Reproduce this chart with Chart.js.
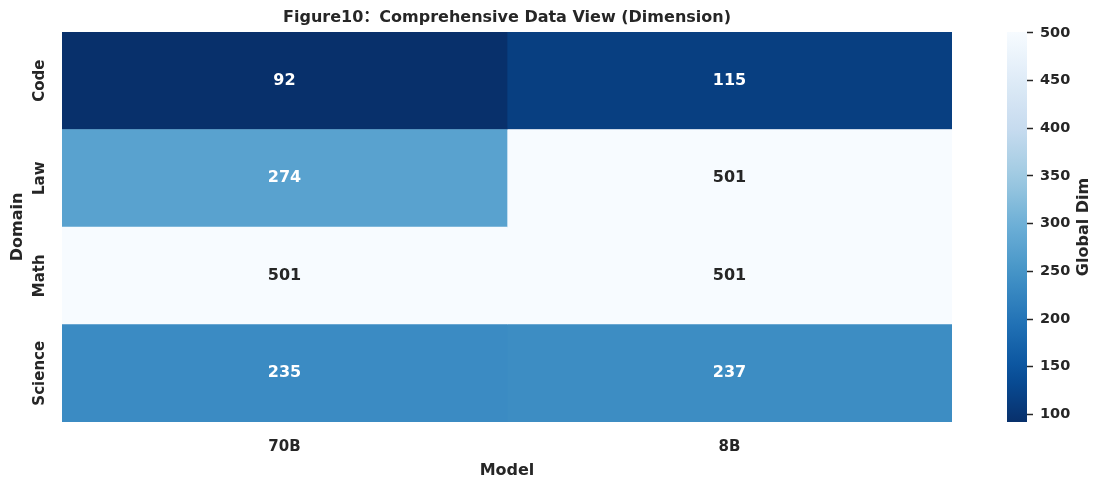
<!DOCTYPE html>
<html lang="en">
<head>
    <meta charset="UTF-8">
    <title>Figure10 Heatmap</title>
    <style>
        body {
            margin: 0;
            padding: 0;
            background-color: #fff;
        }

        #wrap {
            position: relative;
            width: 1105px;
            height: 484px;
        }

        #heatChart {
            position: absolute;
            left: 0;
            top: 0;
        }

        #barChart {
            position: absolute;
            left: 990px;
            top: 0;
        }
    </style>
</head>
<body>
    <div id="wrap">
        <canvas id="heatChart" width="960" height="484"></canvas>
        <canvas id="barChart" width="115" height="484"></canvas>
    </div>

    <script src="https://cdn.jsdelivr.net/npm/chart.js"></script>
    <script>
        // data
        const models = ['70B', '8B'];
        const domains = ['Code', 'Law', 'Math', 'Science'];
        const dim70B = [92, 274, 501, 235];
        const dim8B = [115, 501, 501, 237];
        const colorTicks = [100, 150, 200, 250, 300, 350, 400, 450, 500];
        const vMin = 92;
        const vMax = 501;

        const textColor = '#262626';
        const fontFamily = '"DejaVu Sans", "Noto Sans CJK SC", sans-serif';

        // matplotlib "Blues" stops
        const blues = ['#f7fbff', '#deebf7', '#c6dbef', '#9ecae1', '#6baed6', '#4292c6', '#2171b5', '#08519c', '#08306b'];

        function hexToRgb(h) {
            return [parseInt(h.slice(1, 3), 16), parseInt(h.slice(3, 5), 16), parseInt(h.slice(5, 7), 16)];
        }

        // reversed Blues: low value = dark
        function colorFor(v) {
            let t = (v - vMin) / (vMax - vMin);
            t = Math.max(0, Math.min(1, t));
            const p = (1 - t) * (blues.length - 1);
            const i = Math.min(Math.floor(p), blues.length - 2);
            const f = p - i;
            const a = hexToRgb(blues[i]);
            const b = hexToRgb(blues[i + 1]);
            const c = a.map((x, k) => Math.round(x + (b[k] - x) * f));
            return 'rgb(' + c.join(',') + ')';
        }

        function isDark(v) {
            const m = colorFor(v).match(/\d+/g).map(Number);
            const lum = 0.299 * m[0] + 0.587 * m[1] + 0.114 * m[2];
            return lum < 150;
        }

        const allValues = [dim70B, dim8B];

        // draws cell numbers, rotated y labels and the title
        const heatText = {
            id: 'heatText',
            afterDraw(chart) {
                const ctx = chart.ctx;
                const area = chart.chartArea;
                ctx.save();
                ctx.textAlign = 'center';
                ctx.textBaseline = 'middle';
                ctx.font = 'bold 16px ' + fontFamily;
                chart.data.datasets.forEach((ds, di) => {
                    chart.getDatasetMeta(di).data.forEach((bar, i) => {
                        const v = allValues[di][i];
                        const p = bar.getCenterPoint();
                        ctx.fillStyle = isDark(v) ? '#ffffff' : textColor;
                        ctx.fillText(String(v), p.x, p.y);
                    });
                });

                const ys = chart.scales.y;
                ctx.fillStyle = textColor;
                ctx.font = 'bold 15px ' + fontFamily;
                domains.forEach((d, i) => {
                    const y = ys.getPixelForTick(i);
                    ctx.save();
                    ctx.translate(40, y);
                    ctx.rotate(-Math.PI / 2);
                    ctx.fillText(d, 0, 0);
                    ctx.restore();
                });

                ctx.font = 'bold 16px ' + fontFamily;
                ctx.save();
                ctx.translate(18, (area.top + area.bottom) / 2);
                ctx.rotate(-Math.PI / 2);
                ctx.fillText('Domain', 0, 0);
                ctx.restore();

                // title centred over the plot area
                ctx.fillText('Figure10：Comprehensive Data View (Dimension)', (area.left + area.right) / 2, 18);
                ctx.restore();
            }
        };

        new Chart(document.getElementById('heatChart'), {
            type: 'bar',
            data: {
                labels: domains,
                datasets: models.map((m, di) => ({
                    label: m,
                    data: domains.map(() => 1),
                    backgroundColor: allValues[di].map(colorFor),
                    borderWidth: 0,
                    barPercentage: 1,
                    categoryPercentage: 1
                }))
            },
            options: {
                indexAxis: 'y',
                responsive: false,
                animation: false,
                layout: { padding: { right: 8, left: 0, bottom: 0, top: 32 } },
                plugins: {
                    legend: { display: false },
                    tooltip: { enabled: false },
                    title: { display: false }
                },
                scales: {
                    x: {
                        stacked: true,
                        min: 0,
                        max: 2,
                        afterBuildTicks: (s) => { s.ticks = [{ value: 0.5 }, { value: 1.5 }]; },
                        afterFit: (s) => { s.height = 62; },
                        ticks: {
                            color: textColor,
                            font: { family: fontFamily, size: 15, weight: 'bold' },
                            padding: 8,
                            maxRotation: 0,
                            callback: (v, i) => models[i]
                        },
                        grid: { display: false },
                        border: { display: false },
                        title: {
                            display: true,
                            text: 'Model',
                            color: textColor,
                            font: { family: fontFamily, size: 16, weight: 'bold' },
                            padding: { top: 2 }
                        }
                    },
                    y: {
                        stacked: true,
                        afterFit: (s) => { s.width = 62; },
                        ticks: { display: false },
                        grid: { display: false },
                        border: { display: false }
                    }
                }
            },
            plugins: [heatText]
        });

        // colour bar
        const barTitle = {
            id: 'barTitle',
            afterDraw(chart) {
                const ctx = chart.ctx;
                ctx.save();
                ctx.fillStyle = textColor;
                ctx.font = 'bold 16px ' + fontFamily;
                ctx.textAlign = 'center';
                ctx.textBaseline = 'middle';
                ctx.translate(94, (chart.chartArea.top + chart.chartArea.bottom) / 2);
                ctx.rotate(-Math.PI / 2);
                ctx.fillText('Global Dim', 0, 0);
                ctx.restore();
            }
        };

        new Chart(document.getElementById('barChart'), {
            type: 'bar',
            data: {
                labels: ['Global Dim'],
                datasets: [{
                    data: [[vMin, vMax]],
                    borderWidth: 0,
                    barPercentage: 1,
                    categoryPercentage: 1,
                    backgroundColor: (c) => {
                        const area = c.chart.chartArea;
                        if (!area) return colorFor(vMin);
                        const g = c.chart.ctx.createLinearGradient(0, area.bottom, 0, area.top);
                        for (let k = 0; k <= 20; k++) {
                            const v = vMin + (vMax - vMin) * k / 20;
                            g.addColorStop(k / 20, colorFor(v));
                        }
                        return g;
                    }
                }]
            },
            options: {
                responsive: false,
                animation: false,
                layout: { padding: { left: 17, top: 32, bottom: 62, right: 0 } },
                plugins: {
                    legend: { display: false },
                    tooltip: { enabled: false }
                },
                scales: {
                    x: { display: false },
                    y: {
                        position: 'right',
                        min: vMin,
                        max: vMax,
                        afterBuildTicks: (s) => { s.ticks = colorTicks.map(v => ({ value: v })); },
                        afterFit: (s) => { s.width = 78; },
                        ticks: {
                            color: textColor,
                            font: { family: fontFamily, size: 14.5, weight: 'bold' },
                            padding: 7
                        },
                        grid: {
                            drawOnChartArea: false,
                            tickLength: 6,
                            tickWidth: 1.5,
                            tickColor: textColor
                        },
                        border: { display: false }
                    }
                }
            },
            plugins: [barTitle]
        });
    </script>
</body>
</html>
